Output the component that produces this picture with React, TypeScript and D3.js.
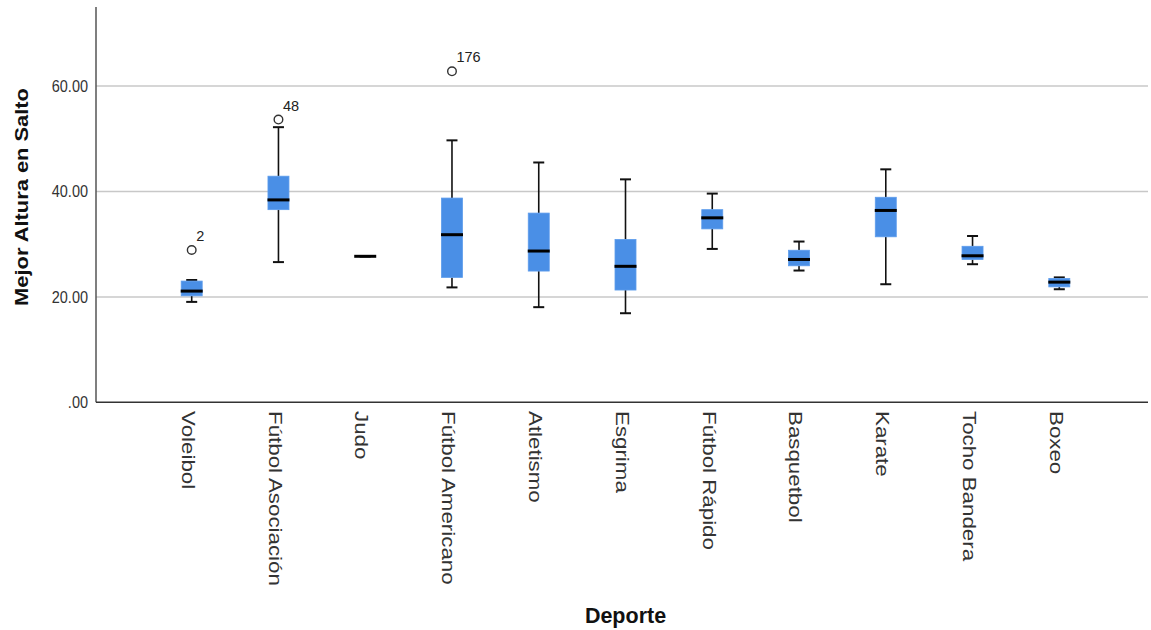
import React from "react";
import * as d3 from "d3";

const categories = ["Voleibol", "Fútbol Asociación", "Judo", "Fútbol Americano", "Atletismo", "Esgrima", "Fútbol Rápido", "Basquetbol", "Karate", "Tocho Bandera", "Boxeo"];
const whiskerLow = [19.05, 26.6, 27.7, 21.8, 18.05, 16.9, 29.1, 25.0, 22.4, 26.2, 21.45];
const q1 = [20.2, 36.55, 27.7, 23.7, 24.9, 21.3, 32.9, 25.9, 31.4, 27.1, 21.9];
const medians = [21.1, 38.4, 27.7, 31.8, 28.7, 25.8, 35.0, 27.1, 36.4, 27.8, 22.8];
const q3 = [23.0, 42.9, 27.7, 38.75, 35.9, 30.9, 36.55, 28.85, 38.9, 29.6, 23.5];
const whiskerHigh = [23.2, 52.2, 27.7, 49.7, 45.5, 42.3, 39.6, 30.5, 44.2, 31.55, 23.7];
const outliers = [
  { category: "Voleibol", value: 28.9, label: "2" },
  { category: "Fútbol Asociación", value: 53.65, label: "48" },
  { category: "Fútbol Americano", value: 62.8, label: "176" },
];
const yTicks = [0, 20, 40, 60];
const yTickLabels = [".00", "20.00", "40.00", "60.00"];

const W = 1151;
const H = 630;
const axisLeft = 96;
const axisRight = 1148;
const axisTop = 7;
const axisBottom = 402.3;

export default function App() {
  const y = d3.scaleLinear().domain([0, 75]).range([axisBottom, axisTop]);
  const x = d3.scalePoint<string>().domain(categories).range([191.7, 1059.3]);
  const boxW = 21;
  const capW = 11;
  const font = "'Liberation Sans', Arial, sans-serif";
  const blue = "#4a8fe6";

  return (
    <svg width={W} height={H} style={{ position: "absolute", left: 0, top: 0, background: "#fff" }} fontFamily={font}>
      <rect x={0} y={0} width={W} height={H} fill="#fff" />
      {yTicks.filter((t) => t > 0).map((t) => (
        <line key={t} x1={axisLeft} x2={axisRight} y1={y(t)} y2={y(t)} stroke="#c8c8c8" strokeWidth={1.5} />
      ))}
      <line x1={axisLeft} x2={axisLeft} y1={axisTop} y2={axisBottom} stroke="#555" strokeWidth={1.5} />
      <line x1={axisLeft} x2={axisRight} y1={axisBottom} y2={axisBottom} stroke="#333" strokeWidth={1.5} />
      {yTicks.map((t, i) => (
        <text key={t} x={88} y={y(t)} dy="0.35em" textAnchor="end" fontSize={14.5} fill="#333"
          transform={`translate(88,${y(t)}) scale(1,1.12) translate(-88,${-y(t)})`}>
          {yTickLabels[i]}
        </text>
      ))}
      {categories.map((c, i) => {
        const cx = x(c)!;
        return (
          <g key={c}>
            <line x1={cx} x2={cx} y1={y(whiskerHigh[i])} y2={y(q3[i])} stroke="#111" strokeWidth={1.6} />
            <line x1={cx} x2={cx} y1={y(q1[i])} y2={y(whiskerLow[i])} stroke="#111" strokeWidth={1.6} />
            <line x1={cx - capW / 2} x2={cx + capW / 2} y1={y(whiskerHigh[i])} y2={y(whiskerHigh[i])} stroke="#111" strokeWidth={2} />
            <line x1={cx - capW / 2} x2={cx + capW / 2} y1={y(whiskerLow[i])} y2={y(whiskerLow[i])} stroke="#111" strokeWidth={2} />
            {q3[i] > q1[i] && (
              <rect x={cx - boxW / 2} y={y(q3[i])} width={boxW} height={y(q1[i]) - y(q3[i])} fill={blue} stroke="#5d9cec" strokeWidth={0.8} />
            )}
            <line x1={cx - boxW / 2 - 0.5} x2={cx + boxW / 2 + 0.5} y1={y(medians[i])} y2={y(medians[i])} stroke="#000" strokeWidth={3} />
            <text
              transform={`translate(${cx - 5},411) scale(1,1.24) rotate(90)`}
              fontSize={18}
              fill="#333"
              dominantBaseline="middle"
            >
              {c}
            </text>
          </g>
        );
      })}
      {outliers.map((o) => {
        const cx = x(o.category)!;
        const cy = y(o.value);
        return (
          <g key={o.label}>
            <circle cx={cx} cy={cy} r={4.3} fill="none" stroke="#333" strokeWidth={1.4} />
            <text x={cx + 4.5} y={cy - 9} fontSize={14.5} fill="#222">{o.label}</text>
          </g>
        );
      })}
      <text transform={`translate(28,197) scale(1,1.25) rotate(-90)`} textAnchor="middle" fontSize={17.5} fontWeight="bold" fill="#111">
        Mejor Altura en Salto
      </text>
      <text x={625.5} y={623} textAnchor="middle" fontSize={21.5} fontWeight="bold" fill="#111">
        Deporte
      </text>
    </svg>
  );
}
